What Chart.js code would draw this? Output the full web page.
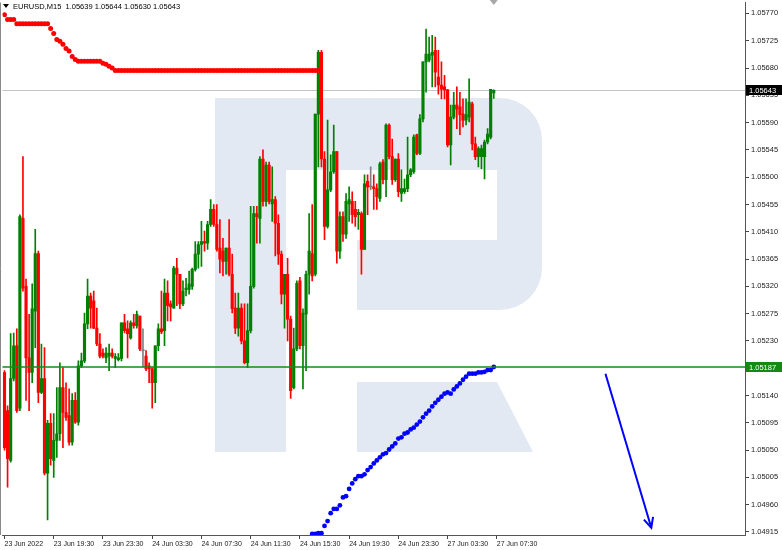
<!DOCTYPE html>
<html>
<head>
<meta charset="utf-8">
<title>EURUSD M15</title>
<script src="https://cdn.jsdelivr.net/npm/chart.js@4.4.1/dist/chart.umd.min.js"></script>
<style>
  html, body { margin: 0; padding: 0; background: #ffffff; }
</style>
</head>
<body>
<canvas id="eurChart" width="782" height="550"></canvas>
<script>
// EURUSD, M15 - 23 Jun 2022 15:30 .. 27 Jun 2022 07:30
var symbolName = 'EURUSD,M15';

var opens = [
  1.05178, 1.05115, 1.05033, 1.05168, 1.05222, 1.05119, 1.05432, 1.05320, 1.05202, 1.05178,
  1.05279, 1.05374, 1.05145, 1.05168, 1.05012, 1.05094, 1.05033, 1.05066, 1.05077, 1.05153,
  1.05112, 1.05107, 1.05063, 1.05132, 1.05096, 1.05189, 1.05197, 1.05258, 1.05304, 1.05296,
  1.05251, 1.05225, 1.05210, 1.05202, 1.05205, 1.05210, 1.05201, 1.05199, 1.05201, 1.05260,
  1.05250, 1.05235, 1.05260, 1.05255, 1.05271, 1.05214, 1.05205, 1.05189, 1.05184, 1.05161,
  1.05222, 1.05250, 1.05247, 1.05309, 1.05291, 1.05284, 1.05350, 1.05340, 1.05291, 1.05314,
  1.05315, 1.05320, 1.05348, 1.05373, 1.05389, 1.05394, 1.05391, 1.05422, 1.05447, 1.05422,
  1.05383, 1.05378, 1.05361, 1.05383, 1.05340, 1.05284, 1.05251, 1.05284, 1.05230, 1.05194,
  1.05247, 1.05320, 1.05440, 1.05432, 1.05530, 1.05460, 1.05520, 1.05456, 1.05463, 1.05424,
  1.05373, 1.05307, 1.05340, 1.05266, 1.05153, 1.05217, 1.05329, 1.05222, 1.05274, 1.05340,
  1.05374, 1.05340, 1.05604, 1.05706, 1.05530, 1.05419, 1.05479, 1.05509, 1.05542, 1.05378,
  1.05435, 1.05406, 1.05456, 1.05460, 1.05447, 1.05438, 1.05440, 1.05381, 1.05493, 1.05484,
  1.05484, 1.05481, 1.05465, 1.05525, 1.05496, 1.05586, 1.05534, 1.05496, 1.05530, 1.05473,
  1.05476, 1.05481, 1.05504, 1.05509, 1.05570, 1.05539, 1.05596, 1.05690, 1.05693, 1.05701,
  1.05709, 1.05665, 1.05652, 1.05649, 1.05644, 1.05553, 1.05599, 1.05619, 1.05616, 1.05604,
  1.05594, 1.05599, 1.05621, 1.05555, 1.05534, 1.05534, 1.05534, 1.05558, 1.05566, 1.05639
];
var highs = [
  1.05181, 1.05123, 1.05242, 1.05243, 1.05250, 1.05438, 1.05534, 1.05332, 1.05274, 1.05324,
  1.05414, 1.05378, 1.05225, 1.05219, 1.05099, 1.05110, 1.05110, 1.05153, 1.05194, 1.05186,
  1.05161, 1.05151, 1.05143, 1.05145, 1.05197, 1.05210, 1.05276, 1.05332, 1.05309, 1.05312,
  1.05284, 1.05242, 1.05217, 1.05219, 1.05225, 1.05217, 1.05209, 1.05209, 1.05260, 1.05274,
  1.05263, 1.05263, 1.05274, 1.05279, 1.05271, 1.05250, 1.05214, 1.05194, 1.05186, 1.05222,
  1.05258, 1.05312, 1.05332, 1.05329, 1.05296, 1.05353, 1.05366, 1.05340, 1.05329, 1.05333,
  1.05345, 1.05350, 1.05394, 1.05394, 1.05427, 1.05411, 1.05427, 1.05463, 1.05455, 1.05455,
  1.05430, 1.05399, 1.05383, 1.05430, 1.05373, 1.05309, 1.05309, 1.05291, 1.05291, 1.05291,
  1.05452, 1.05452, 1.05452, 1.05534, 1.05545, 1.05525, 1.05525, 1.05517, 1.05468, 1.05438,
  1.05378, 1.05340, 1.05366, 1.05271, 1.05251, 1.05329, 1.05335, 1.05283, 1.05345, 1.05440,
  1.05455, 1.05604, 1.05709, 1.05709, 1.05542, 1.05594, 1.05537, 1.05586, 1.05542, 1.05443,
  1.05443, 1.05473, 1.05484, 1.05476, 1.05460, 1.05447, 1.05443, 1.05504, 1.05504, 1.05517,
  1.05504, 1.05489, 1.05525, 1.05529, 1.05588, 1.05588, 1.05563, 1.05530, 1.05539, 1.05512,
  1.05497, 1.05566, 1.05514, 1.05570, 1.05571, 1.05603, 1.05690, 1.05744, 1.05731, 1.05734,
  1.05731, 1.05709, 1.05690, 1.05668, 1.05645, 1.05619, 1.05640, 1.05649, 1.05640, 1.05629,
  1.05629, 1.05662, 1.05624, 1.05566, 1.05550, 1.05553, 1.05561, 1.05580, 1.05645, 1.05644
];
var lows = [
  1.05050, 1.04989, 1.05030, 1.05164, 1.05112, 1.05115, 1.05312, 1.05132, 1.05115, 1.05161,
  1.05219, 1.05128, 1.05143, 1.05009, 1.04935, 1.05025, 1.05005, 1.05038, 1.05066, 1.05054,
  1.05099, 1.05058, 1.05058, 1.05094, 1.05091, 1.05186, 1.05194, 1.05250, 1.05251, 1.05250,
  1.05222, 1.05202, 1.05202, 1.05194, 1.05181, 1.05202, 1.05186, 1.05197, 1.05197, 1.05243,
  1.05202, 1.05233, 1.05251, 1.05251, 1.05214, 1.05187, 1.05181, 1.05161, 1.05119, 1.05128,
  1.05214, 1.05242, 1.05222, 1.05263, 1.05263, 1.05284, 1.05288, 1.05283, 1.05288, 1.05304,
  1.05307, 1.05315, 1.05345, 1.05350, 1.05353, 1.05378, 1.05381, 1.05419, 1.05419, 1.05378,
  1.05342, 1.05337, 1.05340, 1.05337, 1.05276, 1.05242, 1.05238, 1.05225, 1.05192, 1.05186,
  1.05243, 1.05317, 1.05391, 1.05391, 1.05452, 1.05452, 1.05456, 1.05427, 1.05370, 1.05356,
  1.05291, 1.05251, 1.05230, 1.05135, 1.05151, 1.05214, 1.05217, 1.05151, 1.05181, 1.05307,
  1.05329, 1.05337, 1.05517, 1.05517, 1.05397, 1.05416, 1.05476, 1.05506, 1.05358, 1.05366,
  1.05394, 1.05399, 1.05427, 1.05424, 1.05419, 1.05414, 1.05340, 1.05381, 1.05438, 1.05479,
  1.05447, 1.05447, 1.05460, 1.05489, 1.05468, 1.05530, 1.05488, 1.05493, 1.05468, 1.05460,
  1.05473, 1.05476, 1.05501, 1.05506, 1.05537, 1.05537, 1.05591, 1.05640, 1.05690, 1.05649,
  1.05649, 1.05637, 1.05629, 1.05629, 1.05550, 1.05520, 1.05596, 1.05580, 1.05570, 1.05583,
  1.05586, 1.05591, 1.05545, 1.05529, 1.05517, 1.05514, 1.05497, 1.05555, 1.05563, 1.05630
];
var closes = [
  1.05054, 1.05036, 1.05168, 1.05222, 1.05115, 1.05435, 1.05317, 1.05202, 1.05178, 1.05283,
  1.05374, 1.05145, 1.05168, 1.05012, 1.05094, 1.05036, 1.05066, 1.05077, 1.05153, 1.05112,
  1.05104, 1.05063, 1.05132, 1.05096, 1.05189, 1.05197, 1.05258, 1.05304, 1.05284, 1.05251,
  1.05225, 1.05205, 1.05205, 1.05210, 1.05210, 1.05205, 1.05204, 1.05202, 1.05260, 1.05247,
  1.05242, 1.05260, 1.05255, 1.05274, 1.05217, 1.05214, 1.05184, 1.05184, 1.05161, 1.05222,
  1.05250, 1.05245, 1.05309, 1.05288, 1.05286, 1.05350, 1.05340, 1.05291, 1.05312, 1.05317,
  1.05324, 1.05348, 1.05373, 1.05389, 1.05394, 1.05391, 1.05422, 1.05447, 1.05422, 1.05381,
  1.05365, 1.05361, 1.05383, 1.05340, 1.05283, 1.05251, 1.05284, 1.05230, 1.05194, 1.05247,
  1.05320, 1.05440, 1.05435, 1.05530, 1.05460, 1.05520, 1.05460, 1.05463, 1.05424, 1.05373,
  1.05307, 1.05340, 1.05266, 1.05148, 1.05217, 1.05325, 1.05222, 1.05276, 1.05340, 1.05378,
  1.05337, 1.05604, 1.05706, 1.05530, 1.05419, 1.05479, 1.05509, 1.05542, 1.05378, 1.05435,
  1.05406, 1.05460, 1.05463, 1.05438, 1.05435, 1.05442, 1.05381, 1.05489, 1.05484, 1.05484,
  1.05481, 1.05468, 1.05522, 1.05496, 1.05586, 1.05534, 1.05496, 1.05530, 1.05476, 1.05481,
  1.05481, 1.05504, 1.05512, 1.05566, 1.05539, 1.05596, 1.05690, 1.05703, 1.05703, 1.05706,
  1.05673, 1.05652, 1.05645, 1.05644, 1.05553, 1.05599, 1.05619, 1.05612, 1.05603, 1.05594,
  1.05603, 1.05624, 1.05555, 1.05534, 1.05547, 1.05547, 1.05558, 1.05571, 1.05645, 1.05643
];

// red dotted indicator, bars 0..102
var redDots = [
  1.05768, 1.05760, 1.05760, 1.05760, 1.05753, 1.05753, 1.05753, 1.05753, 1.05753, 1.05753,
  1.05753, 1.05753, 1.05753, 1.05753, 1.05753, 1.05745, 1.05737, 1.05727, 1.05724, 1.05719,
  1.05712, 1.05708, 1.05699, 1.05694, 1.05691, 1.05691, 1.05691, 1.05691, 1.05691, 1.05691,
  1.05691, 1.05691, 1.05688, 1.05686, 1.05683, 1.05680, 1.05676, 1.05676, 1.05676, 1.05676,
  1.05676, 1.05676, 1.05676, 1.05676, 1.05676, 1.05676, 1.05676, 1.05676, 1.05676, 1.05676,
  1.05676, 1.05676, 1.05676, 1.05676, 1.05676, 1.05676, 1.05676, 1.05676, 1.05676, 1.05676,
  1.05676, 1.05676, 1.05676, 1.05676, 1.05676, 1.05676, 1.05676, 1.05676, 1.05676, 1.05676,
  1.05676, 1.05676, 1.05676, 1.05676, 1.05676, 1.05676, 1.05676, 1.05676, 1.05676, 1.05676,
  1.05676, 1.05676, 1.05676, 1.05676, 1.05676, 1.05676, 1.05676, 1.05676, 1.05676, 1.05676,
  1.05676, 1.05676, 1.05676, 1.05676, 1.05676, 1.05676, 1.05676, 1.05676, 1.05676, 1.05676,
  1.05676, 1.05676, 1.05676
];
var redStart = 0;

// blue dotted indicator, bars 100..159
var blueDots = [
  1.04912, 1.04912, 1.04913, 1.04913, 1.04925, 1.04933, 1.04946, 1.04953, 1.04953, 1.04959,
  1.04972, 1.04974, 1.04986, 1.04995, 1.05002, 1.05007, 1.05007, 1.05010, 1.05017, 1.05022,
  1.05028, 1.05033, 1.05038, 1.05043, 1.05045, 1.05051, 1.05056, 1.05061, 1.05069, 1.05071,
  1.05077, 1.05079, 1.05084, 1.05087, 1.05092, 1.05097, 1.05104, 1.05110, 1.05115, 1.05122,
  1.05128, 1.05133, 1.05138, 1.05143, 1.05145, 1.05143, 1.05150, 1.05155, 1.05160, 1.05166,
  1.05171, 1.05176, 1.05176, 1.05176, 1.05178, 1.05178, 1.05179, 1.05182, 1.05182, 1.05187
];
var blueStart = 100;

var levelLine = 1.05187;           // green horizontal line
var arrowX = [195.3, 210.2];       // bar positions of the forecast arrow
var arrowY = [1.05176, 1.04922];

var xTickLabels = ['23 Jun 2022', '23 Jun 19:30', '23 Jun 23:30', '24 Jun 03:30', '24 Jun 07:30',
  '24 Jun 11:30', '24 Jun 15:30', '24 Jun 19:30', '24 Jun 23:30', '27 Jun 03:30', '27 Jun 07:30'];
var barsPerLabel = 16;
var yTicks = [1.04915, 1.04960, 1.05005, 1.05050, 1.05095, 1.05140, 1.05185, 1.05230, 1.05275,
  1.05320, 1.05365, 1.05410, 1.05455, 1.05500, 1.05545, 1.05590, 1.05635, 1.05680, 1.05725, 1.05770];

var bullColor = '#008000';
var bearColor = '#ff0000';
var dojiColor = '#808080';
var fontFamily = "'Liberation Sans', Arial, sans-serif";
var lastBar = closes.length - 1;
var bidLevel = closes[lastBar];

function candleColor(i) {
  if (closes[i] > opens[i]) return bullColor;
  if (closes[i] < opens[i]) return bearColor;
  return dojiColor;
}

var wickData = [], bodyData = [], redData = [], blueData = [];
for (var i = 0; i < closes.length; i++) {
  wickData.push({ x: i, y: [lows[i], highs[i]] });
  bodyData.push({ x: i, y: [opens[i], closes[i]] });
}
for (var r = 0; r < redDots.length; r++) redData.push({ x: redStart + r, y: redDots[r] });
for (var b = 0; b < blueDots.length; b++) blueData.push({ x: blueStart + b, y: blueDots[b] });

// logo watermark, lines, labels drawn straight on the canvas
const mtPlugin = {
  id: 'mtDecor',
  beforeDatasetsDraw: (chart) => {
    const { ctx, chartArea } = chart;
    const ys = chart.scales.y;
    ctx.save();
    ctx.fillStyle = '#e3e9f2';
    ctx.beginPath();
    ctx.moveTo(215, 98);
    ctx.arcTo(542, 98, 542, 140, 42);
    ctx.arcTo(542, 310, 500, 310, 42);
    ctx.lineTo(357, 310);
    ctx.lineTo(357, 240);
    ctx.lineTo(497, 240);
    ctx.lineTo(497, 170);
    ctx.lineTo(286, 170);
    ctx.lineTo(286, 452);
    ctx.lineTo(215, 452);
    ctx.closePath();
    ctx.fill();
    ctx.beginPath();
    ctx.moveTo(357, 382);
    ctx.lineTo(497, 382);
    ctx.lineTo(533, 452);
    ctx.lineTo(357, 452);
    ctx.closePath();
    ctx.fill();

    // bid line
    const yb = Math.round(ys.getPixelForValue(bidLevel)) + 0.5;
    ctx.strokeStyle = '#c6c6c6';
    ctx.lineWidth = 1;
    ctx.beginPath();
    ctx.moveTo(chartArea.left, yb);
    ctx.lineTo(chartArea.right, yb);
    ctx.stroke();
    ctx.restore();
  },
  afterDatasetsDraw: (chart) => {
    const { ctx, chartArea } = chart;
    const xs = chart.scales.x, ys = chart.scales.y;
    ctx.save();
    const yl = ys.getPixelForValue(levelLine);
    ctx.strokeStyle = '#178a17';
    ctx.lineWidth = 1.6;
    ctx.beginPath();
    ctx.moveTo(chartArea.left, yl);
    ctx.lineTo(chartArea.right, yl);
    ctx.stroke();

    // arrow head
    const x0 = xs.getPixelForValue(arrowX[0]), y0 = ys.getPixelForValue(arrowY[0]);
    const x1 = xs.getPixelForValue(arrowX[1]), y1 = ys.getPixelForValue(arrowY[1]);
    const ang = Math.atan2(y1 - y0, x1 - x0);
    ctx.strokeStyle = '#0000ff';
    ctx.lineWidth = 2;
    ctx.beginPath();
    ctx.moveTo(x1 - 11 * Math.cos(ang - 0.45), y1 - 11 * Math.sin(ang - 0.45));
    ctx.lineTo(x1, y1);
    ctx.lineTo(x1 - 11 * Math.cos(ang + 0.45), y1 - 11 * Math.sin(ang + 0.45));
    ctx.stroke();
    ctx.restore();
  },
  afterDraw: (chart) => {
    const { ctx, chartArea } = chart;
    const xs = chart.scales.x, ys = chart.scales.y;
    ctx.save();
    // left frame line
    ctx.strokeStyle = '#8a8a8a';
    ctx.lineWidth = 1;
    ctx.beginPath();
    ctx.moveTo(0.5, chartArea.top);
    ctx.lineTo(0.5, chartArea.bottom);
    ctx.stroke();

    // header
    ctx.fillStyle = '#000';
    ctx.beginPath();
    ctx.moveTo(3, 4); ctx.lineTo(9, 4); ctx.lineTo(6, 8);
    ctx.closePath();
    ctx.fill();
    ctx.font = '7.5px ' + fontFamily;
    ctx.textBaseline = 'middle';
    ctx.textAlign = 'left';
    ctx.fillText(symbolName + '  ' + opens[lastBar].toFixed(5) + ' ' + highs[lastBar].toFixed(5) + ' ' +
      lows[lastBar].toFixed(5) + ' ' + closes[lastBar].toFixed(5), 13, 7);

    // shift marker
    const xm = xs.getPixelForValue(lastBar);
    ctx.fillStyle = '#a8a8a8';
    ctx.beginPath();
    ctx.moveTo(xm - 4, 0); ctx.lineTo(xm + 4, 0); ctx.lineTo(xm, 5);
    ctx.closePath();
    ctx.fill();

    // price boxes on the axis
    const boxes = [[bidLevel, '#000000'], [levelLine, '#148a14']];
    boxes.forEach((bx) => {
      const yy = Math.round(ys.getPixelForValue(bx[0]));
      ctx.fillStyle = bx[1];
      ctx.fillRect(chartArea.right + 1, yy - 5, 36, 10);
      ctx.fillStyle = '#ffffff';
      ctx.font = '7.5px ' + fontFamily;
      ctx.fillText(bx[0].toFixed(5), chartArea.right + 4, yy + 0.5);
    });
    ctx.restore();
  }
};

const config = {
  type: 'bar',
  data: {
    datasets: [
      {
        type: 'line', data: redData, showLine: false, pointRadius: 2.5, pointHoverRadius: 2.5,
        pointBorderWidth: 0, pointBackgroundColor: '#ff0000', order: 0
      },
      {
        type: 'line', data: blueData, showLine: false, pointRadius: 2.4, pointHoverRadius: 2.4,
        pointBorderWidth: 0, pointBackgroundColor: '#0000ff', order: 0
      },
      {
        type: 'line', data: [{ x: arrowX[0], y: arrowY[0] }, { x: arrowX[1], y: arrowY[1] }],
        borderColor: '#0000ff', borderWidth: 2, pointRadius: 0, order: 0
      },
      {
        data: bodyData, stack: 'ohlc', barThickness: 2.5, minBarLength: 1, order: 1,
        backgroundColor: (c) => candleColor(c.dataIndex)
      },
      {
        data: wickData, stack: 'ohlc', barThickness: 1, order: 2,
        backgroundColor: (c) => candleColor(c.dataIndex)
      }
    ]
  },
  options: {
    responsive: false,
    animation: false,
    devicePixelRatio: 1,
    layout: { padding: 0 },
    plugins: { legend: { display: false }, tooltip: { enabled: false } },
    scales: {
      x: {
        type: 'linear',
        min: -0.648,
        max: 240.65,
        offset: false,
        grid: { offset: false, drawOnChartArea: false, tickLength: 4, color: '#444' },
        border: { color: '#555' },
        afterBuildTicks: (scale) => {
          scale.ticks = xTickLabels.map((t, k) => ({ value: k * barsPerLabel }));
        },
        afterFit: (scale) => {
          scale.height = 15;
          scale.paddingLeft = 0; scale.paddingRight = 0;
        },
        ticks: {
          autoSkip: false, maxRotation: 0, minRotation: 0, align: 'start', padding: 1,
          color: '#1a1a1a', font: { family: fontFamily, size: 7 },
          callback: (v, idx) => xTickLabels[idx]
        }
      },
      y: {
        position: 'right',
        stacked: false,
        beginAtZero: false,
        min: 1.04910,
        max: 1.05788,
        grid: { drawOnChartArea: false, tickLength: 4, color: '#444' },
        border: { color: '#555' },
        afterBuildTicks: (scale) => {
          scale.ticks = yTicks.map((v) => ({ value: v }));
        },
        afterFit: (scale) => {
          scale.width = 37;
          scale.paddingTop = 0; scale.paddingBottom = 0;
        },
        ticks: {
          padding: 2, color: '#1a1a1a', font: { family: fontFamily, size: 7.5 },
          callback: (v) => Number(v).toFixed(5)
        }
      }
    }
  },
  plugins: [mtPlugin]
};

let eurChart = new Chart(document.getElementById('eurChart'), config);
</script>
</body>
</html>
